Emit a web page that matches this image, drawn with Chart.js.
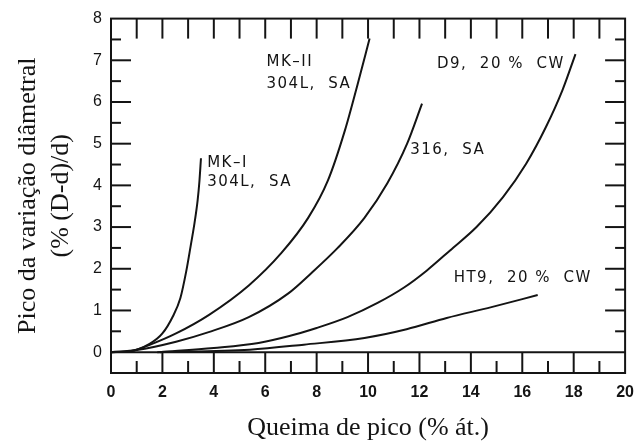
<!DOCTYPE html>
<html>
<head>
<meta charset="utf-8">
<script src="https://cdn.jsdelivr.net/npm/chart.js@4.4.1/dist/chart.umd.min.js"></script>
<style>
  html, body { margin: 0; padding: 0; background: #ffffff; }
  canvas { display: block; }
</style>
</head>
<body>
<canvas id="swelling_chart" width="644" height="441"></canvas>
<script>
// tick values
const x_tick_values = [0, 2, 4, 6, 8, 10, 12, 14, 16, 18, 20];
const y_tick_values = [0, 1, 2, 3, 4, 5, 6, 7, 8];

// burnup (% at.) vs peak diametral change (%)
const mk1_burnup = [0, 0.7, 1.5, 2.0, 2.4, 2.7, 2.93, 3.1, 3.25, 3.37, 3.44, 3.5];
const mk1_swelling = [0, 0.02, 0.2, 0.45, 0.85, 1.3, 1.95, 2.55, 3.1, 3.64, 4.1, 4.65];

const mk2_burnup = [0, 0.8, 1.6, 2.53, 3.8, 5.36, 6.63, 7.67, 8.44, 9.1, 9.6, 10.06];
const mk2_swelling = [0, 0.03, 0.2, 0.45, 0.89, 1.6, 2.38, 3.22, 4.12, 5.32, 6.44, 7.52];

const ss316_burnup = [0, 1.0, 2.53, 3.8, 5.36, 6.9, 7.8, 8.82, 9.86, 10.75, 11.52, 12.1];
const ss316_swelling = [0, 0.05, 0.25, 0.48, 0.84, 1.41, 1.9, 2.5, 3.22, 4.05, 5.0, 5.96];

const d9_burnup = [1.9, 4.0, 5.74, 6.9, 8.0, 9.2, 10.37, 11.4, 12.29, 13.19, 14.22, 15.25, 16.15, 16.92, 17.56, 18.07];
const d9_swelling = [0, 0.1, 0.22, 0.38, 0.58, 0.84, 1.18, 1.55, 1.96, 2.44, 3.0, 3.72, 4.52, 5.4, 6.28, 7.15];

const ht9_burnup = [1.8, 5.4, 7.5, 9.86, 11.5, 13.06, 14.8, 16.6];
const ht9_swelling = [0, 0.06, 0.18, 0.34, 0.55, 0.82, 1.08, 1.37];

const series_names = ['MK–I 304L, SA', 'MK–II 304L, SA', '316, SA', 'D9, 20 % CW', 'HT9, 20 % CW'];

// text written next to the curves, anchored in data units
const curve_notes = [
    { text: 'MK–I', x: 3.74, y: 4.53 },
    { text: '304L,  SA', x: 3.74, y: 4.07 },
    { text: 'MK–II', x: 6.05, y: 6.95 },
    { text: '304L,  SA', x: 6.05, y: 6.42 },
    { text: '316,  SA', x: 11.64, y: 4.84 },
    { text: 'D9,  20 %  CW', x: 12.68, y: 6.92 },
    { text: 'HT9,  20 %  CW', x: 13.33, y: 1.77 },
];

function to_points(xs, ys) {
    return xs.map(function (x, idx) {
        return { x: x, y: ys[idx] };
    });
}

function curve_dataset(name, xs, ys) {
    return {
        label: name,
        data: to_points(xs, ys),
        borderColor: '#141414',
        borderWidth: 2,
        pointRadius: 0,
        fill: false,
        cubicInterpolationMode: 'monotone',
    };
}

function stroke_line(ctx, x1, y1, x2, y2) {
    ctx.beginPath();
    ctx.moveTo(x1, y1);
    ctx.lineTo(x2, y2);
    ctx.stroke();
}

const frame_plugin = {
    id: 'frame_plugin',
    afterDatasetsDraw(chart) {
        const ctx = chart.ctx;
        const area = chart.chartArea;
        const sx = chart.scales.x;
        const sy = chart.scales.y;
        const y_zero = sy.getPixelForValue(0);

        ctx.save();
        ctx.strokeStyle = '#141414';
        ctx.lineWidth = 2;
        ctx.strokeRect(area.left, area.top, area.right - area.left, area.bottom - area.top);
        stroke_line(ctx, area.left, y_zero, area.right, y_zero);

        // top ticks every unit, bottom strip ticks
        for (let v = 1; v < 20; v += 1) {
            const px = sx.getPixelForValue(v);
            stroke_line(ctx, px, area.top, px, area.top + 20);
            if (v % 2 === 0) {
                stroke_line(ctx, px, y_zero, px, area.bottom);
            } else {
                stroke_line(ctx, px, area.bottom - 12, px, area.bottom);
            }
        }

        // inward ticks on the left and right edges
        for (let v = 0.5; v < 8; v += 0.5) {
            const py = sy.getPixelForValue(v);
            const len = Number.isInteger(v) ? 20 : 10;
            stroke_line(ctx, area.left, py, area.left + len, py);
            stroke_line(ctx, area.right - len, py, area.right, py);
        }

        ctx.fillStyle = '#141414';
        ctx.font = '15px "DejaVu Sans"';
        ctx.letterSpacing = '1.5px';
        ctx.textAlign = 'left';
        ctx.textBaseline = 'middle';
        curve_notes.forEach(function (note) {
            ctx.fillText(note.text, sx.getPixelForValue(note.x), sy.getPixelForValue(note.y));
        });
        ctx.restore();
    },
};

new Chart(document.getElementById('swelling_chart').getContext('2d'), {
    type: 'line',
    data: {
        datasets: [
            curve_dataset(series_names[0], mk1_burnup, mk1_swelling),
            curve_dataset(series_names[1], mk2_burnup, mk2_swelling),
            curve_dataset(series_names[2], ss316_burnup, ss316_swelling),
            curve_dataset(series_names[3], d9_burnup, d9_swelling),
            curve_dataset(series_names[4], ht9_burnup, ht9_swelling),
        ],
    },
    options: {
        responsive: false,
        animation: false,
        layout: { padding: { top: 18, right: 14, left: 0, bottom: 0 } },
        plugins: {
            legend: { display: false },
            tooltip: { enabled: false },
        },
        scales: {
            x: {
                type: 'linear',
                min: 0,
                max: 20,
                afterBuildTicks: function (scale) {
                    scale.ticks = x_tick_values.map(function (v) { return { value: v }; });
                },
                afterFit: function (scale) { scale.height = 68; },
                grid: { display: false, drawTicks: false },
                border: { display: false },
                ticks: {
                    color: '#141414',
                    padding: 10,
                    maxRotation: 0,
                    font: { family: '"Liberation Sans", Arial, sans-serif', size: 16, weight: 'bold' },
                },
                title: {
                    display: true,
                    text: 'Queima de pico (% át.)',
                    color: '#141414',
                    padding: { top: 0, bottom: 0 },
                    font: { family: '"Liberation Serif", "Times New Roman", serif', size: 26, lineHeight: 1 },
                },
            },
            y: {
                type: 'linear',
                min: -0.5,
                max: 8,
                afterBuildTicks: function (scale) {
                    scale.ticks = y_tick_values.map(function (v) { return { value: v }; });
                },
                afterFit: function (scale) { scale.width = 111; },
                grid: { display: false, drawTicks: false },
                border: { display: false },
                ticks: {
                    color: '#141414',
                    padding: 9,
                    font: { family: '"Liberation Sans", Arial, sans-serif', size: 16 },
                },
                title: {
                    display: true,
                    text: ['Pico da variação diâmetral', '(% (D-d)/d)'],
                    color: '#141414',
                    padding: { top: 12, bottom: 0 },
                    font: { family: '"Liberation Serif", "Times New Roman", serif', size: 26, lineHeight: 1.25 },
                },
            },
        },
    },
    plugins: [frame_plugin],
});
</script>
</body>
</html>
